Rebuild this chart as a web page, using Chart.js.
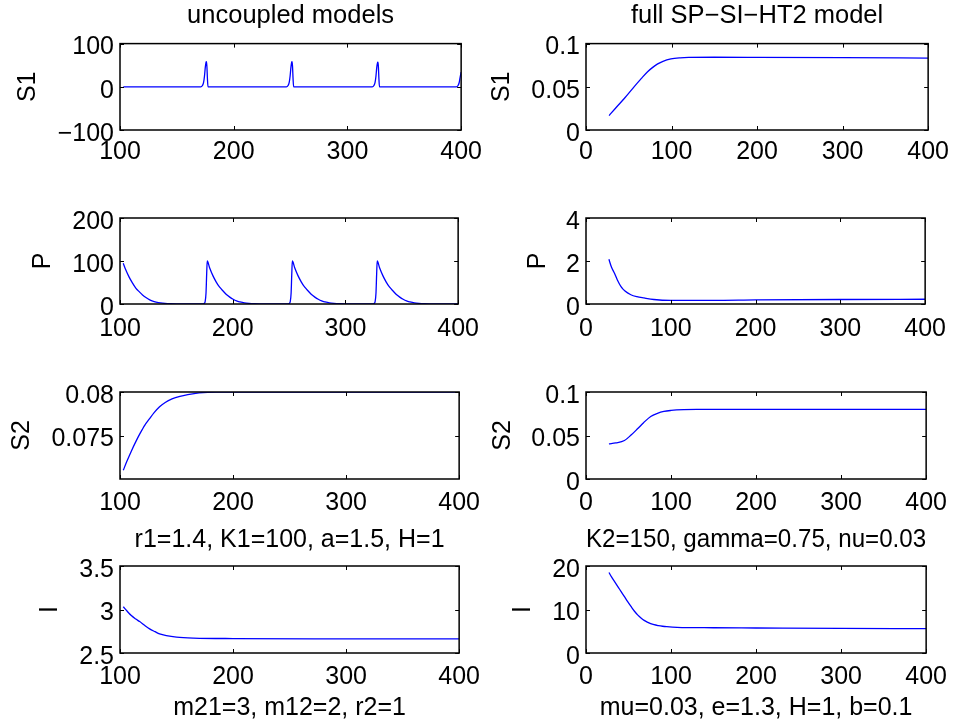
<!DOCTYPE html>
<html>
<head>
<meta charset="utf-8">
<script src="https://cdn.jsdelivr.net/npm/chart.js@4.4.0/dist/chart.umd.min.js"></script>
<style>
  body { margin: 0; background: #fff; overflow: hidden; }
  #fig { position: relative; width: 956px; height: 728px; overflow: hidden; }
  #fig canvas { position: absolute; }
</style>
</head>
<body>
<div id="fig"></div>
<script>
// ---- tick labels ----
var xTicksUnc = [100, 200, 300, 400];
var xTicksFull = [0, 100, 200, 300, 400];
var yTicksS1Unc = [-100, 0, 100];
var yTicksPUnc = [0, 100, 200];
var yTicksS2Unc = [0.075, 0.08];
var yTicksIUnc = [2.5, 3, 3.5];
var yTicksS1Full = [0, 0.05, 0.1];
var yTicksPFull = [0, 2, 4];
var yTicksS2Full = [0, 0.05, 0.1];
var yTicksIFull = [0, 10, 20];

// ---- uncoupled models (left column) ----
var s1UncT = [102.9, 171, 172.5, 173.5, 174.3, 175, 175.6, 176, 176.4, 176.9, 177.4,
  246.3, 247.8, 248.8, 249.6, 250.3, 250.9, 251.3, 251.7, 252.2, 252.7,
  321.8, 323.3, 324.3, 325.1, 325.8, 326.4, 326.8, 327.2, 327.7, 328.2,
  395.8, 397.3, 398.3, 399.1, 400];
var s1UncV = [0, 0, 3, 10, 25, 45, 56, 58, 48, 18, 0,
  0, 3, 10, 25, 45, 56, 58, 48, 18, 0,
  0, 3, 10, 25, 45, 55, 57, 48, 18, 0,
  0, 3, 10, 22, 34];

var pUncT = [102.9, 105, 108, 111, 114, 117.4, 120, 123, 126, 129, 132, 136, 140, 145, 150, 160, 173,
  174.5, 175.5, 176.3, 176.9, 177.4,
  179.4, 182.4, 185.4, 188.4, 191.9, 194.4, 197.4, 200.4, 203.4, 206.4, 210.4, 214.4, 219.4, 224.4, 234.4, 248.5,
  250, 251, 251.8, 252.4, 252.9,
  254.9, 257.9, 260.9, 263.9, 267.4, 269.9, 272.9, 275.9, 278.9, 281.9, 285.9, 289.9, 294.9, 299.9, 309.9, 323.8,
  325.3, 326.3, 327.1, 327.7, 328.2,
  330.2, 333.2, 336.2, 339.2, 342.7, 345.2, 348.2, 351.2, 354.2, 357.2, 361.2, 365.2, 370.2, 375.2, 385.2, 400];
var pUncV = [94.6, 80, 63, 49, 37, 27.6, 21, 15, 10, 6.8, 4.6, 2.5, 1.3, 0.6, 0.3, 0.1, 0.1,
  1, 5, 25, 70, 100,
  85, 66, 51, 39, 29, 22, 16, 11, 7.2, 4.9, 2.6, 1.4, 0.6, 0.3, 0.1, 0.1,
  1, 5, 25, 70, 100,
  85, 66, 51, 39, 29, 22, 16, 11, 7.2, 4.9, 2.6, 1.4, 0.6, 0.3, 0.1, 0.1,
  1, 5, 25, 70, 100,
  85, 66, 51, 39, 29, 22, 16, 11, 7.2, 4.9, 2.6, 1.4, 0.6, 0.3, 0.1, 0.2];

var s2UncT = [102.9, 106, 110, 114, 118, 122, 126, 130, 135, 140, 146, 153, 160, 170, 185, 200, 300, 400];
var s2UncV = [0.0710, 0.0720, 0.0732, 0.0743, 0.0753, 0.0762, 0.0769, 0.0776, 0.0783, 0.0788,
  0.0792, 0.0795, 0.0797, 0.0799, 0.08, 0.08, 0.08, 0.08];

var iUncT = [102.9, 106, 110, 114, 117.4, 122, 126.2, 131, 135, 141, 150, 165, 200, 300, 400];
var iUncV = [3.032, 2.985, 2.93, 2.89, 2.861, 2.815, 2.777, 2.745, 2.72, 2.70, 2.683, 2.672, 2.666, 2.663, 2.662];

// ---- full SP-SI-HT2 model (right column) ----
var s1FullT = [27, 35, 45, 55, 64.5, 72, 78, 83.8, 90, 99.3, 110, 120, 150, 200, 300, 400];
var s1FullV = [0.0167, 0.0258, 0.0367, 0.0485, 0.0594, 0.0675, 0.0725, 0.0765, 0.0795, 0.0822,
  0.0835, 0.0840, 0.0842, 0.0841, 0.0838, 0.0833];

var pFullT = [27, 30, 33.6, 37, 41.3, 46, 52.9, 60, 68.4, 80, 100, 150, 200, 300, 400];
var pFullV = [2.08, 1.72, 1.43, 1.12, 0.81, 0.6, 0.43, 0.34, 0.28, 0.21, 0.17, 0.17, 0.19, 0.21, 0.22];

var s2FullT = [27, 35, 45.2, 53, 60.6, 68, 76.1, 84, 91.6, 100, 114.8, 130, 200, 300, 400];
var s2FullV = [0.0404, 0.0415, 0.0442, 0.0505, 0.0577, 0.065, 0.0719, 0.0755, 0.0777, 0.0788,
  0.0797, 0.08, 0.08, 0.08, 0.08];

var iFullT = [27, 30, 34, 38, 41.3, 45, 49, 52.9, 57, 61, 65, 68.4, 72, 76, 80, 85, 90, 95, 107, 150, 200, 300, 400];
var iFullV = [18.5, 17.5, 16.3, 15.1, 14.1, 13.0, 11.8, 10.7, 9.6, 8.7, 8.0, 7.5, 7.1, 6.75, 6.5, 6.3, 6.15, 6.05,
  5.9, 5.8, 5.75, 5.65, 5.6];

Chart.defaults.font.family = '"Liberation Sans", Arial, Helvetica, sans-serif';
Chart.defaults.font.size = 25;
Chart.defaults.color = '#000';

function fmt(v) {
  return String(v).replace('-', '\u2212');
}

// box round the axes and MATLAB-style inward ticks on all four sides
var frame = {
  id: 'frame',
  afterDraw: function (chart) {
    var ctx = chart.ctx, a = chart.chartArea;
    var xs = chart.scales.x, ys = chart.scales.y;
    ctx.save();
    ctx.strokeStyle = '#000';
    ctx.lineWidth = 1;
    ctx.beginPath();
    xs.ticks.forEach(function (t) {
      var px = Math.round(xs.getPixelForValue(t.value)) + 0.5;
      ctx.moveTo(px, a.bottom); ctx.lineTo(px, a.bottom - 4);
      ctx.moveTo(px, a.top); ctx.lineTo(px, a.top + 4);
    });
    ys.ticks.forEach(function (t) {
      var py = Math.round(ys.getPixelForValue(t.value)) + 0.5;
      ctx.moveTo(a.left, py); ctx.lineTo(a.left + 4, py);
      ctx.moveTo(a.right, py); ctx.lineTo(a.right - 4, py);
    });
    ctx.stroke();
    ctx.lineWidth = 1.5;
    ctx.strokeRect(a.left, a.top, a.right - a.left, a.bottom - a.top);
    ctx.restore();
  }
};

function subplot(o) {
  var c = document.createElement('canvas');
  c.width = o.box[2] - o.box[0] + o.yw + 25;
  c.height = o.box[3] - o.box[1] + o.top + o.xh;
  c.style.left = (o.box[0] - o.yw) + 'px';
  c.style.top = (o.box[1] - o.top) + 'px';
  document.getElementById('fig').appendChild(c);

  var pts = o.t.map(function (t, i) { return { x: t, y: o.v[i] }; });

  new Chart(c, {
    type: 'line',
    data: {
      datasets: [{
        data: pts,
        borderColor: '#0000ff',
        borderWidth: 1.3,
        pointRadius: 0,
        cubicInterpolationMode: 'monotone',
        fill: false
      }]
    },
    options: {
      responsive: false,
      animation: false,
      events: [],
      layout: { padding: { left: 0, right: 25, top: o.title ? 0 : o.top, bottom: 0 } },
      plugins: {
        legend: { display: false },
        tooltip: { enabled: false },
        // fullSize false: the title spans (and centres on) the axes only
        title: o.title ? {
          display: true,
          fullSize: false,
          text: o.title,
          color: '#000',
          font: { size: 25.5, weight: 'normal' },
          padding: { top: 0.5, bottom: 12.5 }
        } : { display: false }
      },
      scales: {
        x: {
          type: 'linear',
          min: o.xr[0],
          max: o.xr[1],
          grid: { display: false, drawTicks: false },
          border: { display: false },
          afterBuildTicks: function (s) { s.ticks = o.xt.map(function (v) { return { value: v }; }); },
          afterFit: function (s) { s.height = o.xh; },
          ticks: { padding: o.xpad, maxRotation: 0, autoSkip: false, callback: fmt },
          title: o.xlabel ? { display: true, text: o.xlabel, padding: 0 } : { display: false }
        },
        y: {
          type: 'linear',
          min: o.yr[0],
          max: o.yr[1],
          grid: { display: false, drawTicks: false },
          border: { display: false },
          afterBuildTicks: function (s) { s.ticks = o.yt.map(function (v) { return { value: v }; }); },
          afterFit: function (s) { s.width = o.yw; },
          ticks: { padding: 6, labelOffset: 4, autoSkip: false, callback: fmt },
          title: { display: true, text: o.ylabel, padding: 0 }
        }
      }
    },
    plugins: [frame]
  });
}

var L = [120, 464], R = [586, 931];
var rows = [[43, 130], [217, 304], [391, 479], [565, 653]];

subplot({ box: [L[0], rows[0][0], L[1], rows[0][1]], top: 43, xh: 40, yw: 107, xpad: 7,
  title: 'uncoupled models', ylabel: 'S1', t: s1UncT, v: s1UncV,
  xr: [100, 400], yr: [-100, 100], xt: xTicksUnc, yt: yTicksS1Unc });
subplot({ box: [L[0], rows[1][0], L[1], rows[1][1]], top: 20, xh: 45, yw: 92, xpad: 10,
  ylabel: 'P', t: pUncT, v: pUncV,
  xr: [100, 400], yr: [0, 200], xt: xTicksUnc, yt: yTicksPUnc });
subplot({ box: [L[0], rows[2][0], L[1], rows[2][1]], top: 20, xh: 76, yw: 113, xpad: 9,
  ylabel: 'S2', xlabel: 'r1=1.4, K1=100, a=1.5, H=1', t: s2UncT, v: s2UncV,
  xr: [100, 400], yr: [0.07, 0.08], xt: xTicksUnc, yt: yTicksS2Unc });
subplot({ box: [L[0], rows[3][0], L[1], rows[3][1]], top: 20, xh: 70, yw: 85, xpad: 9,
  ylabel: 'I', xlabel: 'm21=3, m12=2, r2=1', t: iUncT, v: iUncV,
  xr: [100, 400], yr: [2.5, 3.5], xt: xTicksUnc, yt: yTicksIUnc });

subplot({ box: [R[0], rows[0][0], R[1], rows[0][1]], top: 43, xh: 40, yw: 99, xpad: 7,
  title: 'full SP\u2212SI\u2212HT2 model', ylabel: 'S1', t: s1FullT, v: s1FullV,
  xr: [0, 400], yr: [0, 0.1], xt: xTicksFull, yt: yTicksS1Full });
subplot({ box: [R[0], rows[1][0], R[1], rows[1][1]], top: 20, xh: 45, yw: 63, xpad: 10,
  ylabel: 'P', t: pFullT, v: pFullV,
  xr: [0, 400], yr: [0, 4], xt: xTicksFull, yt: yTicksPFull });
subplot({ box: [R[0], rows[2][0], R[1], rows[2][1]], top: 20, xh: 76, yw: 98, xpad: 9,
  ylabel: 'S2', xlabel: 'K2=150, gamma=0.75, nu=0.03', t: s2FullT, v: s2FullV,
  xr: [0, 400], yr: [0, 0.1], xt: xTicksFull, yt: yTicksS2Full });
subplot({ box: [R[0], rows[3][0], R[1], rows[3][1]], top: 20, xh: 70, yw: 78, xpad: 9,
  ylabel: 'I', xlabel: 'mu=0.03, e=1.3, H=1, b=0.1', t: iFullT, v: iFullV,
  xr: [0, 400], yr: [0, 20], xt: xTicksFull, yt: yTicksIFull });
</script>
</body>
</html>
